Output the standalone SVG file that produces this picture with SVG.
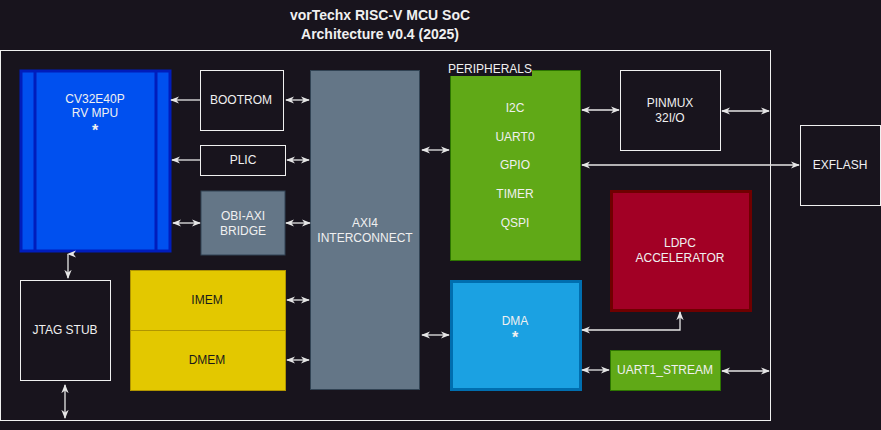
<svg xmlns="http://www.w3.org/2000/svg" width="881" height="430" viewBox="0 0 881 430">
<defs>
<marker id="a" viewBox="0 0 10 10" refX="9" refY="5" markerWidth="7" markerHeight="7" orient="auto-start-reverse"><path d="M0,1 L10,5 L0,9 L3,5 Z" fill="#e6e6e6"/></marker>
<style>
text{font-family:"Liberation Sans",Arial,sans-serif;font-size:12px;fill:#f0f0f0;text-anchor:middle}
.c{stroke:#e6e6e6;stroke-width:1.3;fill:none;marker-end:url(#a)}
.d{marker-start:url(#a)}
.k{fill:#18141d;stroke:#f0f0f0;stroke-width:1}
.t{font-weight:bold;font-size:14px}
.dk{fill:#1a1a1a}
</style>
</defs>
<rect width="881" height="430" fill="#18141d"/>
<text class="t" x="380" y="20">vorTechx RISC-V MCU SoC</text>
<text class="t" x="380" y="39">Architecture v0.4 (2025)</text>
<rect x="0.5" y="50.5" width="770" height="370" fill="none" stroke="#f0f0f0"/>
<g id="cpu"><rect x="21" y="71" width="149" height="180" fill="#0050ef" stroke="#001dbc" stroke-width="3"/><line x1="35" y1="71" x2="35" y2="251" stroke="#001dbc" stroke-width="3"/><line x1="156" y1="71" x2="156" y2="251" stroke="#001dbc" stroke-width="3"/><text x="95" y="103">CV32E40P</text><text x="95" y="117">RV MPU</text><text x="95" y="136" style="font-size:16px;font-weight:bold">*</text></g>
<g id="bootrom"><rect class="k" x="200.5" y="70.5" width="83" height="60"/><text x="241" y="104">BOOTROM</text></g>
<g id="plic"><rect class="k" x="200.5" y="145.5" width="85" height="30"/><text x="243" y="164">PLIC</text></g>
<g id="obi"><rect x="201" y="191" width="84" height="64" fill="#647687" stroke="#314354"/><text x="243" y="220">OBI-AXI</text><text x="243" y="235">BRIDGE</text></g>
<g id="axi"><rect x="310.5" y="70.5" width="109" height="319" fill="#647687" stroke="#314354"/><text x="365" y="227">AXI4</text><text x="365" y="242">INTERCONNECT</text></g>
<g id="mem"><rect x="130.5" y="270.5" width="155" height="60" fill="#e3c800" stroke="#b09500"/><rect x="130.5" y="330.5" width="155" height="60" fill="#e3c800" stroke="#b09500"/><text x="207" y="304" style="fill:#1a1a1a">IMEM</text><text x="207" y="364" style="fill:#1a1a1a">DMEM</text></g>
<g id="jtag"><rect class="k" x="20.5" y="280.5" width="90" height="100"/><text x="65" y="334">JTAG STUB</text></g>
<g id="periph"><rect x="450.5" y="70.5" width="130" height="190" fill="#60a917" stroke="#2d7600"/><rect x="448" y="63" width="84" height="13" fill="#18141d"/><text x="490" y="73" style="text-anchor:middle">PERIPHERALS</text><text x="515" y="112">I2C</text><text x="515" y="141">UART0</text><text x="515" y="169">GPIO</text><text x="515" y="198">TIMER</text><text x="515" y="227">QSPI</text></g>
<g id="pinmux"><rect class="k" x="620.5" y="70.5" width="100" height="80"/><text x="670" y="107">PINMUX</text><text x="670" y="122">32I/O</text></g>
<g id="exflash"><rect class="k" x="800.5" y="125.5" width="80" height="80"/><text x="840" y="169">EXFLASH</text></g>
<g id="ldpc"><rect x="611.5" y="191.5" width="139" height="119" fill="#a20025" stroke="#6f0000" stroke-width="3"/><text x="680" y="247">LDPC</text><text x="680" y="262">ACCELERATOR</text></g>
<g id="dma"><rect x="451.5" y="281.5" width="129" height="108" fill="#1ba1e2" stroke="#006eaf" stroke-width="3"/><text x="515" y="325">DMA</text><text x="515" y="343" style="font-size:16px;font-weight:bold">*</text></g>
<g id="uart1"><rect x="610.5" y="350.5" width="110" height="40" fill="#60a917" stroke="#2d7600"/><text x="665" y="374">UART1_STREAM</text></g>
<g id="connectors">
<path class="c" d="M200,100 H171"/>
<path class="c" d="M200,160 H172"/>
<path class="c d" d="M173,223 H200"/>
<path class="c d" d="M286,100 H309"/>
<path class="c d" d="M287,160 H309"/>
<path class="c d" d="M286,223 H310"/>
<path class="c d" d="M287,300 H309"/>
<path class="c d" d="M287,360 H309"/>
<path class="c d" d="M68,254 H68 V278" transform=""/>
<path class="c d" d="M65,385 V418"/>
<path class="c d" d="M422,150 H449"/>
<path class="c d" d="M422,335 H449"/>
<path class="c d" d="M582,110 H619"/>
<path class="c d" d="M722,111 H769"/>
<path class="c d" d="M582,165 H799"/>
<path class="c d" d="M582,330 H680 V312"/>
<path class="c d" d="M582,370 H609"/>
<path class="c d" d="M722,371 H769"/>
</g>
</svg>
